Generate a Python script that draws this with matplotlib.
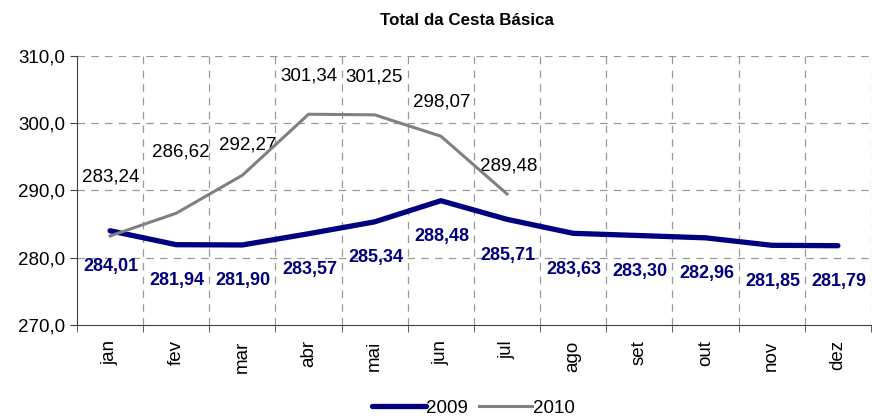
import matplotlib.pyplot as plt
from matplotlib.ticker import FuncFormatter, FixedLocator

plt.rcParams['font.family'] = ['Liberation Sans', 'DejaVu Sans']

meses = ['jan', 'fev', 'mar', 'abr', 'mai', 'jun', 'jul', 'ago', 'set', 'out', 'nov', 'dez']
v2009 = [284.01, 281.94, 281.90, 283.57, 285.34, 288.48, 285.71, 283.63, 283.30, 282.96, 281.85, 281.79]
v2010 = [283.24, 286.62, 292.27, 301.34, 301.25, 298.07, 289.48]

# offsets em pixels dos rótulos de 2010 (ajustados à mão como no Excel)
off2010 = [(1, 59), (5, 61), (5, 30), (0, 38), (-1, 38), (1, 34), (2, 28)]

fig = plt.figure(figsize=(8.72, 4.2), dpi=100)
ax = fig.add_axes([0.0883, 0.2262, 0.9105, 0.6405])

x = list(range(len(meses)))
l1, = ax.plot(x, v2009, color='#000080', lw=3.8, solid_capstyle='round', label='2009', zorder=3)
l2, = ax.plot(x[:len(v2010)], v2010, color='#808080', lw=2.2, label='2010', zorder=4)

for xi, v in zip(x, v2009):
    ax.annotate(f'{v:.2f}'.replace('.', ','), (xi, v), xytext=(1, -36),
                textcoords='offset pixels', ha='center', va='center',
                fontsize=13, fontweight='bold', color='#000080')
for xi, v, (dx, dy) in zip(x, v2010, off2010):
    ax.annotate(f'{v:.2f}'.replace('.', ','), (xi, v), xytext=(dx, dy),
                textcoords='offset pixels', ha='center', va='center',
                fontsize=13.5, color='black')

ax.set_xlim(-0.5, 11.5)
ax.set_ylim(270, 310)
ax.set_yticks([270, 280, 290, 300, 310])
ax.yaxis.set_major_formatter(FuncFormatter(lambda v, p: f'{v:.1f}'.replace('.', ',')))
ax.set_xticks(x)
ax.set_xticklabels(meses, rotation=90, fontsize=13.5)
ax.tick_params(axis='x', which='major', length=0, pad=11)
ax.xaxis.set_minor_locator(FixedLocator([i + 0.5 for i in range(-1, 12)]))
ax.tick_params(axis='x', which='minor', length=5, color='#404040', direction='out')
ax.tick_params(axis='y', length=5, color='#404040', labelsize=13.5)

for b in [i + 0.5 for i in range(12)]:
    ax.axvline(b, color='#999999', lw=0.9, ls=(0, (6, 5)), zorder=1)
for yv in [280, 290, 300, 310]:
    ax.axhline(yv, color='#999999', lw=0.9, ls=(0, (6, 5)), zorder=1)

ax.spines['top'].set_visible(False)
ax.spines['right'].set_visible(False)
ax.spines['left'].set_color('#404040')
ax.spines['bottom'].set_color('#404040')

fig.text(0.535, 0.952, 'Total da Cesta Básica', ha='center', va='center',
         fontsize=12.2, fontweight='bold')

fig.legend(handles=[l1, l2], loc='center', bbox_to_anchor=(0.543, 0.028), ncol=2,
           frameon=False, fontsize=13.5, handlelength=2.85, handletextpad=0.05,
           columnspacing=0.55)

fig.savefig('out.png', dpi=100)
